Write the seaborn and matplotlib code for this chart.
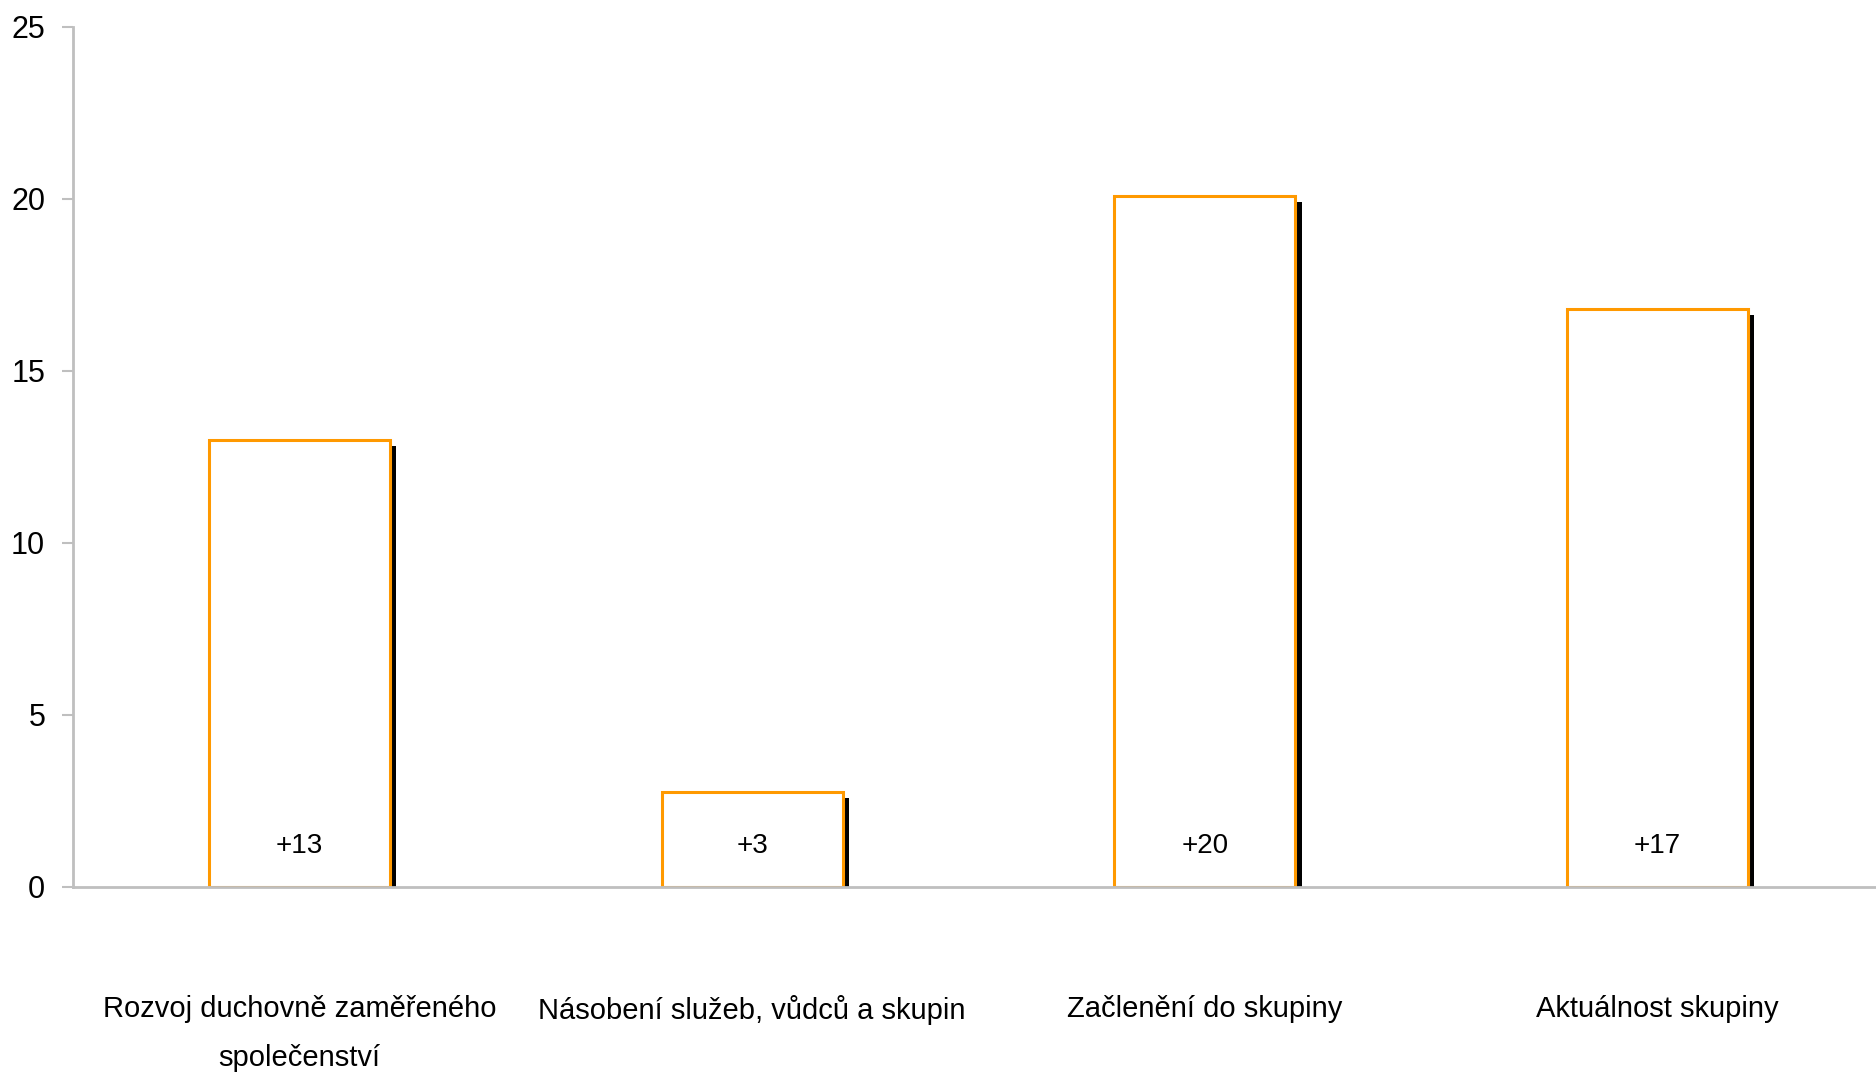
import matplotlib
matplotlib.use("Agg")
import matplotlib.pyplot as plt
import matplotlib.patheffects as pe
import seaborn as sns

categories = ["Rozvoj duchovně zaměřeného\nspolečenství",
              "Násobení služeb, vůdců a skupin",
              "Začlenění do skupiny",
              "Aktuálnost skupiny"]
values = [13.0, 2.77, 20.1, 16.8]
bar_labels = ["+13", "+3", "+20", "+17"]
y_ticks = [0, 5, 10, 15, 20, 25]

sns.set_theme(style="white")
plt.rcParams['font.family'] = ['Liberation Sans', 'DejaVu Sans']

fig = plt.figure(figsize=(18.76, 10.74), dpi=100)
ax = fig.add_axes([73/1876, 1 - 887/1074, 1811/1876, 860/1074])

sns.barplot(x=categories, y=values, width=0.4, color="white",
            edgecolor="#FF9900", linewidth=2.2, ax=ax, saturation=1)

for p in ax.patches:
    p.set_facecolor("white")
    p.set_path_effects([pe.SimplePatchShadow(offset=(4.5, -4.5), shadow_rgbFace="black", alpha=1.0),
                        pe.Normal()])

for i, (v, lab) in enumerate(zip(values, bar_labels)):
    ax.text(i, 1.2, lab, ha="center", va="center", fontsize=20, color="black")

ax.set_xlim(-0.5, 3.5)
ax.set_ylim(0, 25)
ax.set_yticks(y_ticks)
ax.set_yticklabels([str(t) for t in y_ticks], fontsize=22, color="black")

ax.set_xticks(range(len(categories)))
ax.set_xticklabels(categories, fontsize=21, color="black", linespacing=1.95)
ax.set_xticks([-0.5, 0.5, 1.5, 2.5, 3.5], minor=True)
ax.tick_params(axis="x", which="major", length=0, pad=78)
ax.tick_params(axis="x", which="minor", length=8, width=1.5, color="#BFBFBF", direction="out")
ax.tick_params(axis="y", length=8, width=1.5, color="#BFBFBF", direction="out", pad=12, left=True)

for s in ["top", "right"]:
    ax.spines[s].set_visible(False)
for s in ["left", "bottom"]:
    ax.spines[s].set_color("#BFBFBF")
    ax.spines[s].set_linewidth(2)
ax.spines["bottom"].set_zorder(5)
ax.set_xlabel("")
ax.set_ylabel("")
ax.grid(False)

fig.savefig("out.png", dpi=100, facecolor="white")
